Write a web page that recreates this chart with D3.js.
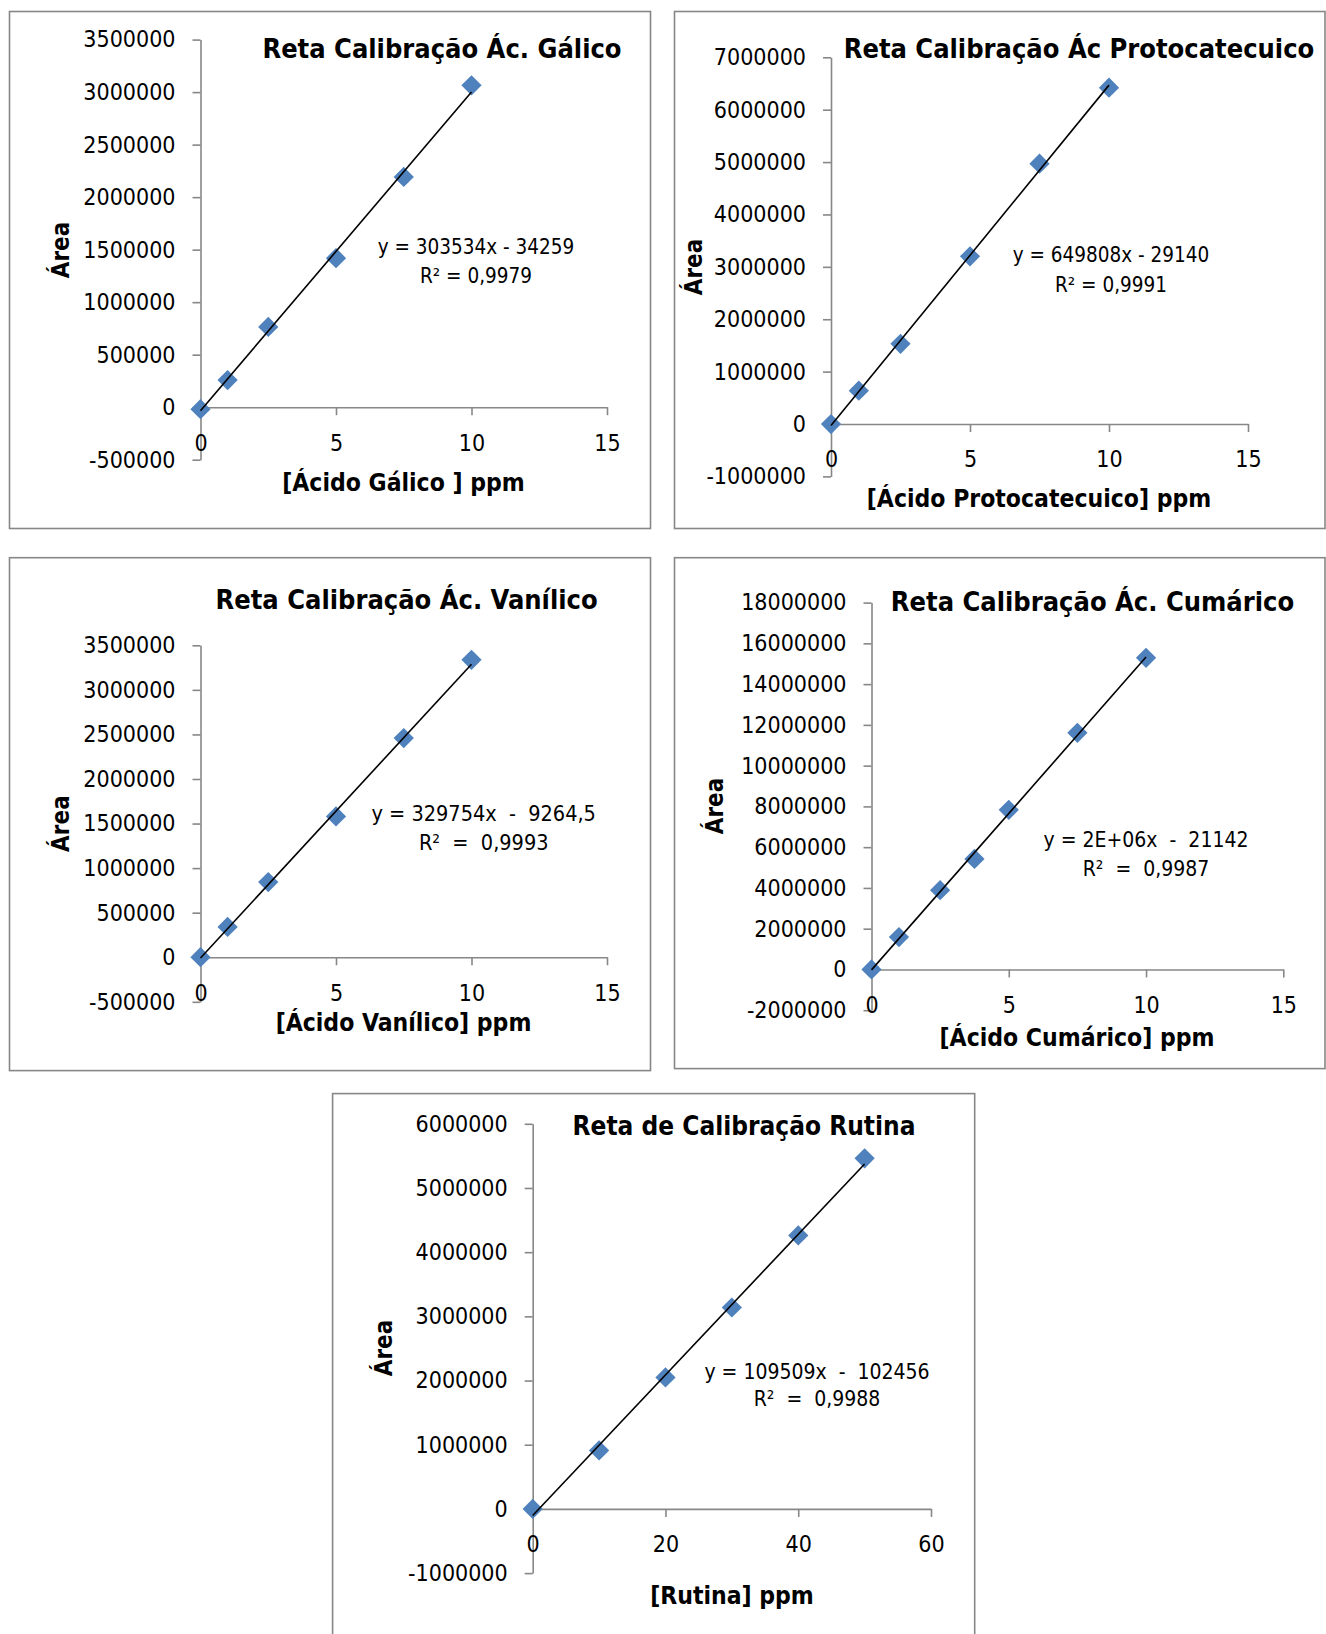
<!DOCTYPE html>
<html>
<head>
    <meta charset="utf-8">
    <script src="https://d3js.org/d3.v7.min.js"></script>
    <style>
        body { margin: 0; background: #fff; }
        svg { display: block; }
    </style>
</head>

<body></body>

<script>
    // concentrations (ppm) and areas
    var galicoX = [0, 1, 2.5, 5, 7.5, 10];
    var galicoY = [-19000, 258000, 764000, 1419000, 2192000, 3065000];
    var galicoFit = [303534, -34259];
    var galicoYTicks = [-500000, 0, 500000, 1000000, 1500000, 2000000, 2500000, 3000000, 3500000];

    var protoX = [0, 1, 2.5, 5, 7.5, 10];
    var protoY = [0, 636000, 1530000, 3200000, 4970000, 6420000];
    var protoFit = [649808, -29140];
    var protoYTicks = [-1000000, 0, 1000000, 2000000, 3000000, 4000000, 5000000, 6000000, 7000000];

    var vanilX = [0, 1, 2.5, 5, 7.5, 10];
    var vanilY = [0, 340000, 843000, 1580000, 2459000, 3337000];
    var vanilFit = [329754, -9264.5];
    var vanilYTicks = [-500000, 0, 500000, 1000000, 1500000, 2000000, 2500000, 3000000, 3500000];

    var cumarX = [0, 1, 2.5, 3.75, 5, 7.5, 10];
    var cumarY = [0, 1586000, 3890000, 5420000, 7830000, 11610000, 15290000];
    var cumarFit = [1535000, -21142];
    var cumarYTicks = [-2000000, 0, 2000000, 4000000, 6000000, 8000000, 10000000, 12000000, 14000000, 16000000, 18000000];

    var rutinaX = [0, 10, 20, 30, 40, 50];
    var rutinaY = [0, 911000, 2049000, 3138000, 4260000, 5463000];
    var rutinaFit = [109509, -102456];
    var rutinaYTicks = [-1000000, 0, 1000000, 2000000, 3000000, 4000000, 5000000, 6000000];

    var acidXTicks = [0, 5, 10, 15];
    var rutinaXTicks = [0, 20, 40, 60];

    var titles = ["Reta Calibração Ác. Gálico", "Reta Calibração Ác Protocatecuico",
                  "Reta Calibração Ác. Vanílico", "Reta Calibração Ác. Cumárico",
                  "Reta de Calibração Rutina"];
    var xTitles = ["[Ácido Gálico ] ppm", "[Ácido Protocatecuico] ppm",
                   "[Ácido Vanílico] ppm", "[Ácido Cumárico] ppm", "[Rutina] ppm"];
    var equations = ["y = 303534x - 34259", "y = 649808x - 29140",
                     "y = 329754x  -  9264,5", "y = 2E+06x  -  21142", "y = 109509x  -  102456"];
    var r2Labels = ["R² = 0,9979", "R² = 0,9991", "R²  =  0,9993", "R²  =  0,9987", "R²  =  0,9988"];

    var font = "'DejaVu Sans Condensed', 'DejaVu Sans', sans-serif";
    var gray = "#878787";
    var blue = "#4f81bd";

    var svg = d3.select("body").append("svg")
        .attr("width", 1326)
        .attr("height", 1634);

    var panels = [
        { xs: galicoX, ys: galicoY, fit: galicoFit, yTicks: galicoYTicks, xTicks: acidXTicks,
          box: [9.5, 11.5, 650.5, 528.5], xDom: [0, 15], xRange: [200.5, 607],
          yDom: [-500000, 3500000], yRange: [459.7, 39.6],
          title: [442, 48, 27], xt: [403.5, 482], yt: [60.5, 250], eq: [476, 247, 276, 20.5] },
        { xs: protoX, ys: protoY, fit: protoFit, yTicks: protoYTicks, xTicks: acidXTicks,
          box: [674.5, 11.5, 1325, 528.5], xDom: [0, 15], xRange: [831, 1248],
          yDom: [-1000000, 7000000], yRange: [476.4, 57.3],
          title: [1079, 48, 27], xt: [1039, 498], yt: [694, 267], eq: [1111, 255, 285, 20.5] },
        { xs: vanilX, ys: vanilY, fit: vanilFit, yTicks: vanilYTicks, xTicks: acidXTicks,
          box: [9.5, 557.7, 650.5, 1070.6], xDom: [0, 15], xRange: [200.5, 607],
          yDom: [-500000, 3500000], yRange: [1001.8, 645.3],
          title: [406.6, 599.4, 27], xt: [403.5, 1022.7], yt: [60.5, 823.6], eq: [483.7, 813, 842, 21.5] },
        { xs: cumarX, ys: cumarY, fit: cumarFit, yTicks: cumarYTicks, xTicks: acidXTicks,
          box: [674.5, 557.7, 1325, 1068.6], xDom: [0, 15], xRange: [871.5, 1283.3],
          yDom: [-2000000, 18000000], yRange: [1010.2, 602.6],
          title: [1092.5, 601.5, 27], xt: [1077, 1037], yt: [715, 806], eq: [1146, 840, 869, 21] },
        { xs: rutinaX, ys: rutinaY, fit: rutinaFit, yTicks: rutinaYTicks, xTicks: rutinaXTicks,
          box: [332.6, 1093.6, 974.7, 1645], xDom: [0, 60], xRange: [532.7, 931],
          yDom: [-1000000, 6000000], yRange: [1573.1, 1123.8],
          title: [744, 1126, 26], xt: [732, 1595], yt: [383.6, 1348], eq: [817, 1372, 1399, 21] }
    ];

    var diamond = d3.symbol().type(d3.symbolSquare).size(205);

    let drawPanel = (p, i) => {
        var g = svg.append("g");

        g.append("rect")
            .attr("x", p.box[0]).attr("y", p.box[1])
            .attr("width", p.box[2] - p.box[0])
            .attr("height", p.box[3] - p.box[1])
            .attr("fill", "none")
            .attr("stroke", gray)
            .attr("stroke-width", 1.6);

        let x = d3.scaleLinear().domain(p.xDom).range(p.xRange);
        let y = d3.scaleLinear().domain(p.yDom).range(p.yRange);

        var yAxis = g.append("g")
            .attr("transform", "translate(" + x(0) + ",0)")
            .call(d3.axisLeft(y).tickValues(p.yTicks).tickFormat(String)
                .tickSizeInner(8).tickSizeOuter(0).tickPadding(17));

        var xAxis = g.append("g")
            .attr("transform", "translate(0," + y(0) + ")")
            .call(d3.axisBottom(x).tickValues(p.xTicks).tickFormat(String)
                .tickSizeInner(8).tickSizeOuter(0).tickPadding(19));

        [yAxis, xAxis].forEach(a => {
            a.select(".domain").attr("stroke", gray).attr("stroke-width", 1.6);
            a.selectAll(".tick line").attr("stroke", gray).attr("stroke-width", 1.6);
            a.selectAll(".tick text")
                .attr("fill", "#000")
                .style("font-family", font)
                .style("font-size", "23px");
        });

        // markers
        g.selectAll("path.pt")
            .data(p.xs.map((v, k) => [v, p.ys[k]]))
            .enter().append("path")
                .attr("class", "pt")
                .attr("d", diamond)
                .attr("fill", blue)
                .attr("transform", function(d) {
                    return "translate(" + x(d[0]) + "," + y(d[1]) + ") rotate(45)";
                });

        // linear trendline
        var x0 = d3.min(p.xs), x1 = d3.max(p.xs);
        g.append("line")
            .attr("x1", x(x0)).attr("y1", y(p.fit[0] * x0 + p.fit[1]))
            .attr("x2", x(x1)).attr("y2", y(p.fit[0] * x1 + p.fit[1]))
            .attr("stroke", "#000")
            .attr("stroke-width", 1.6);

        g.append("text")
            .attr("x", p.title[0]).attr("y", p.title[1])
            .attr("text-anchor", "middle")
            .attr("dominant-baseline", "central")
            .style("font-family", font)
            .style("font-weight", "bold")
            .style("font-size", p.title[2] + "px")
            .text(titles[i]);

        g.append("text")
            .attr("x", p.xt[0]).attr("y", p.xt[1])
            .attr("text-anchor", "middle")
            .attr("dominant-baseline", "central")
            .style("font-family", font)
            .style("font-weight", "bold")
            .style("font-size", "24.5px")
            .text(xTitles[i]);

        g.append("text")
            .attr("transform", "translate(" + p.yt[0] + "," + p.yt[1] + ") rotate(-90)")
            .attr("text-anchor", "middle")
            .attr("dominant-baseline", "central")
            .style("font-family", font)
            .style("font-weight", "bold")
            .style("font-size", "24px")
            .text("Área");

        [equations[i], r2Labels[i]].forEach((t, k) => {
            g.append("text")
                .attr("x", p.eq[0]).attr("y", p.eq[1 + k])
                .attr("text-anchor", "middle")
                .attr("dominant-baseline", "central")
                .style("font-family", font)
                .style("font-size", p.eq[3] + "px")
                .style("white-space", "pre")
                .text(t);
        });
    }

    panels.forEach(drawPanel);
</script>
</html>
